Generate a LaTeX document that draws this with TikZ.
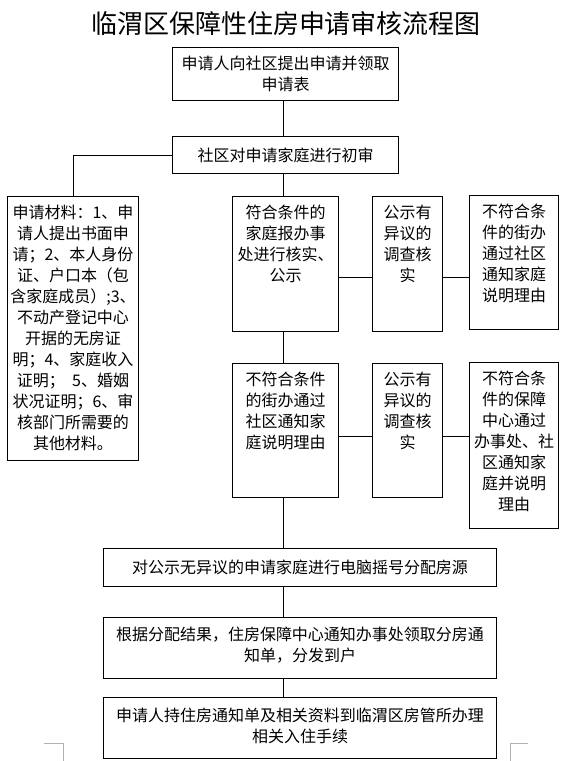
\documentclass[tikz,border=0pt]{standalone}
\usepackage{fontspec}
\setmainfont{Noto Sans CJK SC}
\usetikzlibrary{positioning}
\tikzset{
  stepbox/.style={rectangle, draw=black, line width=1pt, inner sep=0pt, anchor=north west},
  boxtext/.style={align=center, inner sep=0pt, font=\fontsize{16}{21}\selectfont},
  link/.style={line width=0.9pt},
  cropmark/.style={line width=0.9pt, gray!60}
}

\begin{document}
\begin{tikzpicture}[x=1pt, y=-1pt]
\useasboundingbox (0,0) rectangle (570,761);

% title
\node[font=\fontsize{26}{30}\selectfont, inner sep=0pt] (title) at (286,24) {临渭区保障性住房申请审核流程图};

% main column
\coordinate (spine) at (283,0);
\node[stepbox, minimum width=226, minimum height=53] (b1) at (172,47) {};
\node[boxtext] (t1) at (b1.center) {申请人向社区提出申请并领取\\申请表};
\node[stepbox, minimum width=226, minimum height=37] (b2) at (172,136) {};
\node[boxtext] (t2) at (b2.center) {社区对申请家庭进行初审};

% materials
\node[stepbox, minimum width=131, minimum height=264] (lb) at (7,196) {};
\node[boxtext, below=9pt of lb.north] (tl) {申请材料：1、申\\请人提出书面申\\请；2、本人身份\\证、户口本（包\\含家庭成员）;3、\\不动产登记中心\\开据的无房证\\明；4、家庭收入\\证明；\ \ 5、婚姻\\状况证明；6、审\\核部门所需要的\\其他材料。};

% row 1
\node[stepbox, minimum width=106, minimum height=135] (m1) at (232,196) {};
\node[boxtext, below=9pt of m1.north] (tm1) {符合条件的\\家庭报办事\\处进行核实、\\公示};
\node[stepbox, minimum width=70, minimum height=135] (c1) at (372,196) {};
\node[boxtext, below=9pt of c1.north] (tc1) {公示有\\异议的\\调查核\\实};
\node[stepbox, minimum width=89, minimum height=134] (d1) at (469,195) {};
\node[boxtext, below=9pt of d1.north] (td1) {不符合条\\件的街办\\通过社区\\通知家庭\\说明理由};

% row 2
\node[stepbox, minimum width=106, minimum height=134] (m2) at (232,363) {};
\node[boxtext, below=9pt of m2.north] (tm2) {不符合条件\\的街办通过\\社区通知家\\庭说明理由};
\node[stepbox, minimum width=70, minimum height=134] (c2) at (372,363) {};
\node[boxtext, below=9pt of c2.north] (tc2) {公示有\\异议的\\调查核\\实};
\node[stepbox, minimum width=89, minimum height=166] (d2) at (469,362) {};
\node[boxtext, below=9pt of d2.north] (td2) {不符合条\\件的保障\\中心通过\\办事处、社\\区通知家\\庭并说明\\理由};

% bottom steps
\node[stepbox, minimum width=393, minimum height=38] (ba) at (103,548) {};
\node[boxtext] (ta) at (ba.center) {对公示无异议的申请家庭进行电脑摇号分配房源};
\node[stepbox, minimum width=393, minimum height=61] (bb) at (103,617) {};
\node[boxtext] (tb) at ([yshift=3pt]bb.center) {根据分配结果，住房保障中心通知办事处领取分房通\\知单，分发到户};
\node[stepbox, minimum width=393, minimum height=61] (bc) at (103,697) {};
\node[boxtext] (tc) at ([yshift=2pt]bc.center) {申请人持住房通知单及相关资料到临渭区房管所办理\\相关入住手续};

% connectors
\coordinate (r1) at (0,277);
\coordinate (r2) at (0,436);
\draw[link] (b1.south -| spine) -- (b2.north -| spine);
\draw[link] (b2.west) -| (lb.north);
\draw[link] (b2.south -| spine) -- (m1.north -| spine);
\draw[link] (m1.east |- r1) -- (c1.west |- r1);
\draw[link] (c1.east |- r1) -- (d1.west |- r1);
\draw[link] (m1.south -| spine) -- (m2.north -| spine);
\draw[link] (m2.east |- r2) -- (c2.west |- r2);
\draw[link] (c2.east |- r2) -- (d2.west |- r2);
\draw[link] (m2.south -| spine) -- (ba.north -| spine);
\draw[link] (ba.south -| spine) -- (bb.north -| spine);
\draw[link] (bb.south -| spine) -- (bc.north -| spine);

% page corner marks
\draw[cropmark] (44,743) -- (63,743) -- (63,761);
\draw[cropmark] (528,743) -- (510,743) -- (510,761);

\end{tikzpicture}
\end{document}
